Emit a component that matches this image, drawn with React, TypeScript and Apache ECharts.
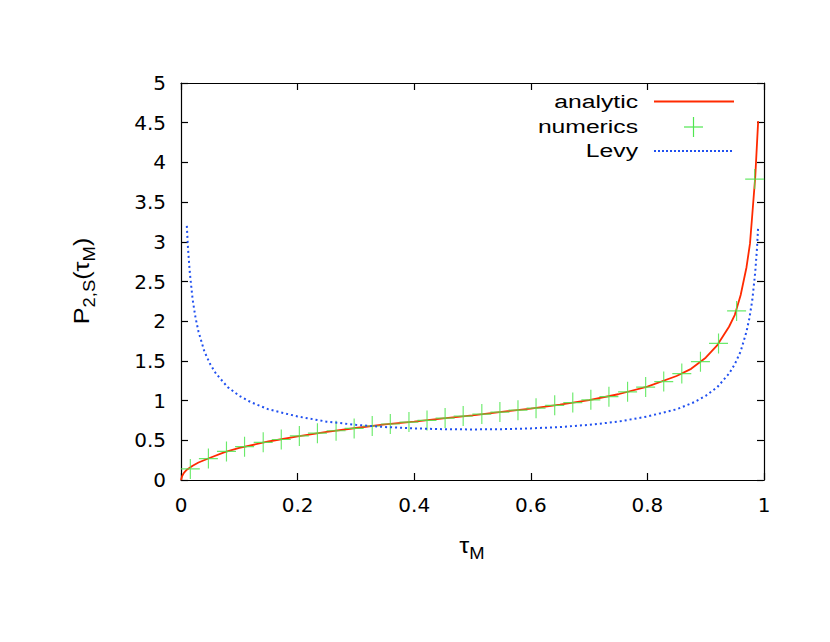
import React, { useEffect, useRef } from "react";
import * as echarts from "echarts";

// ---- data ----
const analyticTau = [0, 0.002, 0.005, 0.01, 0.02, 0.03, 0.05, 0.075, 0.1, 0.15, 0.2, 0.25, 0.3, 0.35, 0.4, 0.45, 0.5, 0.55, 0.6, 0.65, 0.7, 0.75, 0.8, 0.85, 0.875, 0.9, 0.92, 0.94, 0.95, 0.96, 0.97, 0.976, 0.98, 0.985, 0.99];
const analyticVal = [0, 0.05, 0.09, 0.13, 0.18, 0.22, 0.28, 0.35, 0.405, 0.485, 0.55, 0.605, 0.655, 0.7, 0.735, 0.775, 0.815, 0.858, 0.898, 0.95, 1.005, 1.08, 1.175, 1.31, 1.4, 1.54, 1.7, 1.93, 2.08, 2.33, 2.68, 2.98, 3.35, 3.82, 4.52];

const numericsTau = [0.016, 0.047, 0.078, 0.109, 0.141, 0.172, 0.203, 0.234, 0.266, 0.297, 0.328, 0.359, 0.391, 0.422, 0.453, 0.484, 0.516, 0.547, 0.578, 0.609, 0.641, 0.672, 0.703, 0.734, 0.766, 0.797, 0.828, 0.859, 0.891, 0.922, 0.953, 0.984];
const numericsVal = [0.14, 0.27, 0.36, 0.42, 0.475, 0.51, 0.555, 0.59, 0.62, 0.65, 0.68, 0.705, 0.73, 0.75, 0.78, 0.805, 0.83, 0.855, 0.88, 0.905, 0.94, 0.975, 1.01, 1.05, 1.11, 1.17, 1.24, 1.34, 1.49, 1.72, 2.13, 3.79];

const levyTau = [0.01, 0.012, 0.015, 0.02, 0.025, 0.03, 0.04, 0.05, 0.06, 0.08, 0.1, 0.12, 0.15, 0.2, 0.25, 0.3, 0.35, 0.4, 0.45, 0.5, 0.55, 0.6, 0.65, 0.7, 0.75, 0.8, 0.85, 0.88, 0.9, 0.92, 0.94, 0.95, 0.96, 0.97, 0.975, 0.98, 0.985, 0.988, 0.99];
const levyVal = [3.2, 2.92, 2.62, 2.27, 2.04, 1.87, 1.62, 1.46, 1.34, 1.17, 1.06, 0.98, 0.89, 0.8, 0.735, 0.695, 0.667, 0.65, 0.64, 0.637, 0.64, 0.65, 0.667, 0.695, 0.735, 0.8, 0.89, 0.98, 1.06, 1.17, 1.34, 1.46, 1.62, 1.87, 2.04, 2.27, 2.62, 2.92, 3.2];

const legendNames = ["analytic", "numerics", "Levy"];

const RED = "#ff2a00";
const GREEN = "#50e650";
const BLUE = "#2050f0";
const CROSS = "path://M9.4,0H10.6V20H9.4ZM0,9.4H20V10.6H0Z";

const zip = (a: number[], b: number[]) => a.map((x, i) => [x, b[i]]);

export default function App() {
  const ref = useRef<HTMLDivElement>(null);
  useEffect(() => {
    if (!ref.current) return;
    const chart = echarts.init(ref.current, undefined, { renderer: "svg" });
    const labelFont = { fontFamily: "DejaVu Sans", fontSize: 20, color: "#000" };
    const axisCommon = {
      axisLine: { show: true, onZero: false, lineStyle: { color: "#000", width: 1.2 } },
      axisTick: { show: true, inside: true, length: 7, lineStyle: { color: "#000", width: 1.2 } },
      splitLine: { show: false },
    };
    const gFont = "Liberation Sans";
    const rich = {
      a: { fontFamily: gFont, fontSize: 22, lineHeight: 27, verticalAlign: "top", fill: "#000" },
      b: { fontFamily: gFont, fontSize: 16, lineHeight: 19, verticalAlign: "bottom", fill: "#000" },
    };
    chart.setOption({
      animation: false,
      backgroundColor: "#fff",
      grid: { left: 181, right: 66, top: 83, bottom: 162, containLabel: false },
      xAxis: [
        { type: "value", min: 0, max: 1, interval: 0.2, position: "bottom", ...axisCommon,
          axisLabel: { ...labelFont, margin: 15 } },
        { type: "value", min: 0, max: 1, interval: 0.2, position: "top", ...axisCommon,
          axisLabel: { show: false } },
      ],
      yAxis: [
        { type: "value", min: 0, max: 5, interval: 0.5, position: "left", ...axisCommon,
          axisLabel: { ...labelFont, margin: 15 } },
        { type: "value", min: 0, max: 5, interval: 0.5, position: "right", ...axisCommon,
          axisLabel: { show: false } },
      ],
      series: [
        { name: legendNames[0], type: "line", data: zip(analyticTau, analyticVal), showSymbol: false,
          lineStyle: { color: RED, width: 1.8 }, z: 2 },
        { name: legendNames[1], type: "scatter", data: zip(numericsTau, numericsVal), symbol: CROSS,
          symbolSize: [19, 20], itemStyle: { color: GREEN, opacity: 0.85 }, z: 3 },
        { name: legendNames[2], type: "line", data: zip(levyTau, levyVal), showSymbol: false,
          lineStyle: { color: BLUE, width: 2, type: [2, 3], cap: "butt" }, z: 4 },
      ],
      graphic: [
        // legend
        { type: "text", x: 638, y: 101.5, scaleX: 1.3,
          style: { text: legendNames[0], font: `19px "${gFont}"`, fill: "#000", textAlign: "right", textVerticalAlign: "middle" } },
        { type: "text", x: 638, y: 126.5, scaleX: 1.3,
          style: { text: legendNames[1], font: `19px "${gFont}"`, fill: "#000", textAlign: "right", textVerticalAlign: "middle" } },
        { type: "text", x: 638, y: 151, scaleX: 1.3,
          style: { text: legendNames[2], font: `19px "${gFont}"`, fill: "#000", textAlign: "right", textVerticalAlign: "middle" } },
        { type: "line", shape: { x1: 654, y1: 101.5, x2: 734, y2: 101.5 }, style: { stroke: RED, lineWidth: 1.8 } },
        { type: "line", shape: { x1: 684, y1: 127, x2: 703, y2: 127 }, style: { stroke: GREEN, lineWidth: 1.2 } },
        { type: "line", shape: { x1: 693.5, y1: 117, x2: 693.5, y2: 137 }, style: { stroke: GREEN, lineWidth: 1.2 } },
        { type: "line", shape: { x1: 654, y1: 151, x2: 734, y2: 151 }, style: { stroke: BLUE, lineWidth: 2, lineDash: [2, 2] } },
        // axis titles
        { type: "text", x: 84, y: 281, rotation: Math.PI / 2, scaleX: 1.15,
          style: { text: "{a|P}{b|2,S}{a|(τ}{b|M}{a|)}", textAlign: "center", textVerticalAlign: "middle", rich } },
        { type: "text", x: 472, y: 548, scaleX: 1.15,
          style: { text: "{a|τ}{b|M}", textAlign: "center", textVerticalAlign: "middle", rich } },
      ],
    });
    return () => chart.dispose();
  }, []);
  return <div ref={ref} style={{ position: "absolute", left: 0, top: 0, width: 830, height: 642, background: "#fff" }} />;
}
